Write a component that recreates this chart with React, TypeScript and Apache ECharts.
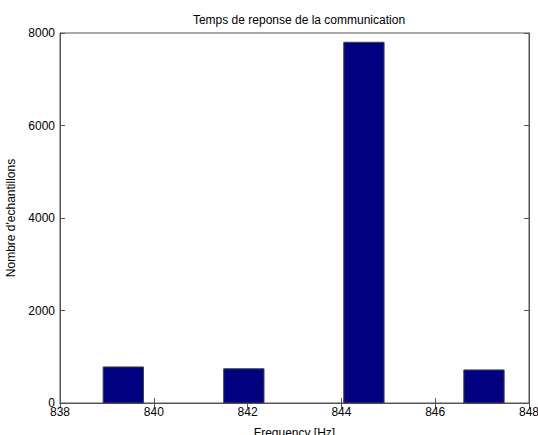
import React, { useEffect, useRef } from "react";
import * as echarts from "echarts";

const binCenters = [839.35, 841.92, 844.48, 847.04];
const counts = [780, 740, 7800, 715];
const binWidth = 0.86;
const xTicks = [838, 840, 842, 844, 846, 848];
const yTicks = [0, 2000, 4000, 6000, 8000];

const FONT = "'Liberation Sans', Arial, Helvetica, sans-serif";

export default function App() {
  const ref = useRef<HTMLDivElement>(null);
  useEffect(() => {
    if (!ref.current) return;
    const chart = echarts.init(ref.current, null, { renderer: "svg" });
    const axisColor = "#555";
    const data = binCenters.map((c, i) => [c, counts[i]]);
    chart.setOption({
      animation: false,
      backgroundColor: "#fff",
      textStyle: { fontFamily: FONT },
      title: {
        text: "Temps de reponse de la communication",
        left: 294,
        textAlign: "center",
        top: 9,
        textStyle: { fontFamily: FONT, fontSize: 12, fontWeight: "normal", color: "#000" },
      },
      grid: {
        left: 60,
        right: 9,
        top: 33,
        bottom: 32,
        outerBoundsMode: "none",
        containLabel: false,
        show: true,
        borderColor: axisColor,
        borderWidth: 1,
        backgroundColor: "#fff",
      },
      xAxis: [
        {
          type: "value",
          min: xTicks[0],
          max: xTicks[xTicks.length - 1],
          interval: 2,
          position: "bottom",
          name: "Frequency [Hz]",
          nameLocation: "middle",
          nameGap: 24,
          nameTextStyle: { fontFamily: FONT, fontSize: 12, color: "#000" },
          axisLine: { show: true, lineStyle: { color: axisColor } },
          axisTick: { show: true, inside: true, length: 5, lineStyle: { color: axisColor } },
          axisLabel: { color: "#000", fontSize: 12, fontFamily: FONT, margin: 3, showMaxLabel: true, showMinLabel: true },
          splitLine: { show: false },
        },
        {
          type: "value",
          min: xTicks[0],
          max: xTicks[xTicks.length - 1],
          interval: 2,
          position: "top",
          axisLine: { show: true, lineStyle: { color: axisColor } },
          axisTick: { show: true, inside: true, length: 5, lineStyle: { color: axisColor } },
          axisLabel: { show: false },
          splitLine: { show: false },
        },
      ],
      yAxis: [
        {
          type: "value",
          min: yTicks[0],
          max: yTicks[yTicks.length - 1],
          interval: 2000,
          position: "left",
          name: "Nombre d'echantillons",
          nameLocation: "middle",
          nameGap: 35,
          nameTextStyle: { fontFamily: FONT, fontSize: 12, color: "#000" },
          axisLine: { show: true, lineStyle: { color: axisColor } },
          axisTick: { show: true, inside: true, length: 5, lineStyle: { color: axisColor } },
          axisLabel: { color: "#000", fontSize: 12, fontFamily: FONT, margin: 5, formatter: (v: number) => String(v) },
          splitLine: { show: false },
        },
        {
          type: "value",
          min: yTicks[0],
          max: yTicks[yTicks.length - 1],
          interval: 2000,
          position: "right",
          axisLine: { show: true, lineStyle: { color: axisColor } },
          axisTick: { show: true, inside: true, length: 5, lineStyle: { color: axisColor } },
          axisLabel: { show: false },
          splitLine: { show: false },
        },
      ],
      series: [
        {
          type: "custom",
          xAxisIndex: 0,
          yAxisIndex: 0,
          data,
          renderItem: (params: any, api: any) => {
            const c = api.value(0);
            const v = api.value(1);
            const p0 = api.coord([c - binWidth / 2, v]);
            const p1 = api.coord([c + binWidth / 2, 0]);
            return {
              type: "rect",
              shape: { x: p0[0], y: p0[1], width: p1[0] - p0[0], height: p1[1] - p0[1] },
              style: { fill: "#000080", stroke: "#444", lineWidth: 1 },
            };
          },
        },
      ],
    });
    return () => chart.dispose();
  }, []);
  return (
    <div
      ref={ref}
      style={{ position: "fixed", left: 0, top: 0, width: 538, height: 435 }}
    />
  );
}
